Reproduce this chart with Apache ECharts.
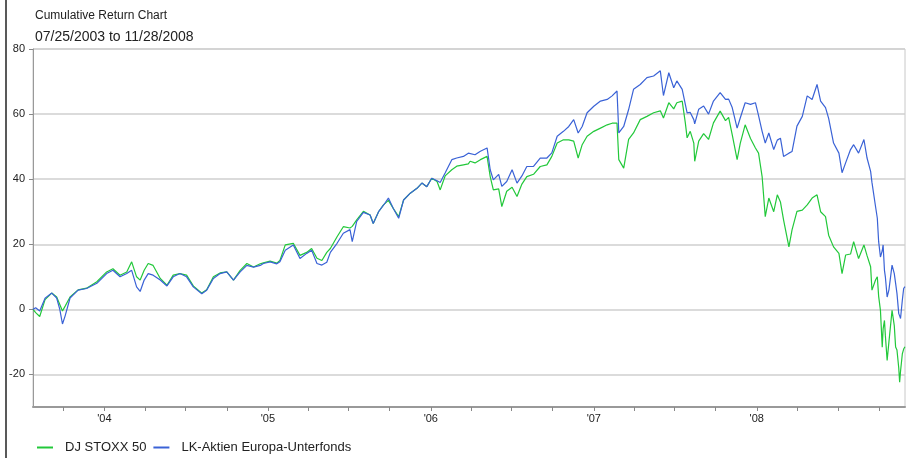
<!DOCTYPE html>
<html>
<head>
<meta charset="utf-8">
<script src="https://cdn.jsdelivr.net/npm/echarts@6/dist/echarts.min.js"></script>
<style>
  html, body { margin: 0; padding: 0; background: #fff; }
  #main { width: 923px; height: 458px; }
</style>
</head>
<body>
<div id="main"></div>
<script>
// 数据：日期 + 两条累计收益曲线 (%)
var dates = [
  '2003-07-25','2003-07-31','2003-08-09','2003-08-21','2003-09-05','2003-09-16','2003-09-23','2003-09-29','2003-10-05','2003-10-16','2003-11-03','2003-11-22','2003-12-15',
  '2004-01-06','2004-01-20','2004-02-05','2004-02-20','2004-03-02','2004-03-13','2004-03-21','2004-03-30','2004-04-08','2004-04-19','2004-05-05','2004-05-20','2004-06-03','2004-06-18','2004-07-03','2004-07-18','2004-08-06','2004-08-17','2004-09-01','2004-09-16','2004-10-01','2004-10-16','2004-10-31','2004-11-15','2004-11-30','2004-12-15','2004-12-22',
  '2005-01-06','2005-01-21','2005-01-28','2005-02-09','2005-02-27','2005-03-14','2005-03-29','2005-04-09','2005-04-21','2005-05-02','2005-05-13','2005-05-21','2005-06-05','2005-06-19','2005-07-04','2005-07-09','2005-07-19','2005-08-03','2005-08-18','2005-08-25','2005-09-06','2005-09-17','2005-09-28','2005-10-09','2005-10-21','2005-11-01','2005-11-16','2005-12-01','2005-12-12','2005-12-23',
  '2006-01-03','2006-01-15','2006-01-22','2006-02-02','2006-02-17','2006-02-28','2006-03-15','2006-03-26','2006-03-30','2006-04-10','2006-04-22','2006-05-07','2006-05-14','2006-05-21','2006-06-02','2006-06-09','2006-06-20','2006-07-02','2006-07-13','2006-07-24','2006-08-04','2006-08-19','2006-09-03','2006-09-18','2006-09-29','2006-10-11','2006-10-25','2006-11-06','2006-11-17','2006-11-27','2006-12-06','2006-12-17',
  '2007-01-01','2007-01-16','2007-01-31','2007-02-11','2007-02-22','2007-02-26','2007-03-09','2007-03-20','2007-03-31','2007-04-15','2007-04-30','2007-05-15','2007-05-30','2007-06-06','2007-06-18','2007-06-29','2007-07-06','2007-07-18','2007-07-25','2007-07-29','2007-08-05','2007-08-13','2007-08-15','2007-08-24','2007-09-04','2007-09-15','2007-09-26','2007-10-11','2007-10-23','2007-10-30','2007-11-07','2007-11-18','2007-11-25','2007-12-06','2007-12-18','2007-12-29',
  '2008-01-05','2008-01-13','2008-01-20','2008-01-28','2008-02-08','2008-02-16','2008-02-23','2008-03-01','2008-03-13','2008-03-20','2008-03-31','2008-04-12','2008-04-23','2008-05-04','2008-05-15','2008-05-23','2008-06-03','2008-06-10','2008-06-21','2008-07-03','2008-07-10','2008-07-18','2008-07-29','2008-08-05','2008-08-16','2008-08-28','2008-09-04','2008-09-12','2008-09-15','2008-09-23','2008-09-27','2008-09-30','2008-10-04','2008-10-08','2008-10-10','2008-10-13','2008-10-15','2008-10-19','2008-10-23','2008-10-30','2008-11-04','2008-11-07','2008-11-10','2008-11-14','2008-11-16','2008-11-18','2008-11-22','2008-11-25','2008-11-28'
];

// DJ STOXX 50
var stoxx = [
  0, -1, -2.2, 3.0, 5, 3.8, 1.5, -0.5, 1, 3.8, 6, 6.5, 8.5,
  11.5, 12.5, 10.5, 11.5, 14.6, 10, 9, 12, 14.1, 13.5, 9.5, 7.4, 10.5, 11, 10.5, 7.2, 5, 6, 10, 11.2, 11.5, 9, 12, 14.1, 13, 14, 14.3,
  14.8, 14.2, 15, 19.8, 20.3, 16.6, 17.5, 18.7, 15.7, 15, 17.5, 18.7, 22.3, 25.4, 25, 25.5, 27.5, 30.1, 29, 26.4, 30, 32.1, 33.5, 31, 28.5, 33.6, 35.7, 37.2, 38.8, 37.7,
  40.3, 39.3, 36.7, 41, 42.9, 44, 44.4, 44.7, 45.5, 45, 46, 47, 40.8, 36.7, 37, 31.6, 36.3, 37.5, 34.7, 38.5, 40.8, 41.5, 43.9, 44.4, 47, 51.1, 52.1, 52.1, 51.7, 46.5, 50.6, 53.2,
  54.7, 55.7, 56.7, 57.2, 57.2, 46, 43.4, 52.2, 54.2, 58.3, 59.3, 60.4, 61, 58.8, 63.5, 61.6, 63.5, 64, 57.3, 52.7, 54.7, 51.1, 45.5, 51.7, 54, 52.2, 57.3, 60.9, 58, 59, 53.7, 46, 51, 56.7, 52.5, 49.6,
  48, 40.8, 28.5, 34.2, 30, 35.2, 33, 27.5, 19.2, 24.4, 30.1, 30.5, 32.1, 34.2, 35.2, 30, 28.5, 22.8, 19.2, 17.2, 11, 16.7, 17, 20.8, 15.6, 19.8, 16.5, 13.1, 5.9, 9, 10, 4, -0.3, -11.6, -6, -3.4, -8, -15.7, -10, -0.3, -5, -11.6, -12.5, -18, -22.4, -19, -13.7, -12.2, -11.5
];

// LK-Aktien Europa-Unterfonds
var lkFund = [
  0, 0.5, -0.5, 3.4, 5, 3.5, 0, -4.5, -2, 3.5, 5.9, 6.4, 8,
  11, 12, 10, 11, 12, 6.9, 5.5, 9, 11, 10.5, 9, 7.2, 10, 11, 10, 6.9, 4.8, 5.9, 9.5, 11, 11.5, 9, 11.5, 13.5, 13, 13.5, 14.1,
  14.6, 14, 14.6, 18.2, 19.8, 15.6, 17.2, 18.2, 14.1, 13.6, 14.5, 17.5, 20.3, 23.4, 24.5, 20.8, 27, 29.8, 29, 26.4, 30, 32, 34.2, 31, 28, 33.6, 35.7, 37.2, 38.8, 37.7,
  40.3, 39.5, 39, 41.9, 46, 46.5, 47, 48, 48.1, 47.5, 48.6, 49.6, 42.9, 39.8, 41.5, 37.8, 39.3, 42.9, 38.8, 41, 43.9, 43.9, 46.5, 46.5, 48.1, 53.2, 54.7, 56.2, 58.3, 54.2, 56.2, 60.4,
  62.4, 64, 64.5, 65.6, 67.1, 54.2, 56.2, 61.4, 67.6, 69.1, 71.2, 71.7, 73.3, 65.7, 72.7, 68.1, 70.2, 67.6, 63, 60.4, 60.5, 58.3, 57, 61.5, 62.5, 60, 64, 66.6, 64.5, 64.6, 62, 55.7, 58.8, 63.5, 63, 63.5,
  59.5, 54.7, 51.1, 54.2, 49.1, 52, 52.6, 47, 48, 48.5, 56.3, 59.3, 65.6, 64.5, 69.1, 64, 62, 58.7, 51.1, 48, 42, 45, 49.1, 50.6, 48, 52.2, 46.5, 42.4, 39, 31.6, 28, 20.8, 16.1, 18, 19.8, 12, 10, 3.8, 6, 13.6, 11, 8, 4.9, -1.3, -2, -2.8, 2.8, 6.4, 7
];

var seriesNames = ['DJ STOXX 50', 'LK-Aktien Europa-Unterfonds'];

function pairs(vals) {
  return dates.map(function (d, i) { return [d, vals[i]]; });
}

var DAY = 24 * 3600 * 1000;
var myChart = echarts.init(document.getElementById('main'));

var option = {
  animation: false,
  backgroundColor: '#fff',
  title: {
    text: 'Cumulative Return Chart',
    subtext: '07/25/2003 to 11/28/2008',
    left: 30,
    top: 5,
    itemGap: 8,
    textStyle: { fontFamily: 'Liberation Sans', fontSize: 12, fontWeight: 'normal', color: '#222' },
    subtextStyle: { fontFamily: 'Liberation Sans', fontSize: 14, color: '#222' }
  },
  legend: {
    data: seriesNames,
    left: 32,
    top: 436,
    icon: 'rect',
    itemWidth: 16,
    itemHeight: 2,
    itemGap: 7,
    textStyle: { fontFamily: 'Liberation Sans', fontSize: 13, color: '#222', padding: [0, 0, 0, 7] }
  },
  grid: {
    left: 33, right: 18, top: 49, bottom: 51,
    containLabel: false,
    outerBoundsMode: 'none',
    show: true,
    borderColor: '#c8c8c8',
    borderWidth: 1
  },
  graphic: [{
    type: 'line',
    shape: { x1: 6, y1: 0, x2: 6, y2: 458 },
    style: { stroke: '#222', lineWidth: 1.5 }
  }],
  xAxis: {
    type: 'time',
    min: '2003-07-25',
    max: '2008-11-28',
    splitNumber: 16,
    minInterval: 105 * DAY,
    maxInterval: 115 * DAY,
    axisLine: { onZero: false, lineStyle: { color: '#999', width: 2 } },
    axisTick: { show: true, length: 4, lineStyle: { color: '#888' } },
    splitLine: { show: false },
    axisLabel: {
      fontFamily: 'Liberation Sans', fontSize: 11, color: '#222', margin: 6,
      hideOverlap: false,
      formatter: function (v) {
        var d = new Date(v);
        return d.getMonth() === 0 && d.getDate() === 1 ? "'" + String(d.getFullYear()).slice(2) : '';
      }
    }
  },
  yAxis: {
    type: 'value',
    min: -30,
    max: 80,
    splitNumber: 5,
    axisLine: { show: true, lineStyle: { color: '#999', width: 1 } },
    axisTick: { show: true, length: 4, lineStyle: { color: '#888' } },
    splitLine: { lineStyle: { color: '#cfcfcf', width: 1.5 } },
    axisLabel: { fontFamily: 'Liberation Sans', fontSize: 11, color: '#222', margin: 8, showMinLabel: false }
  },
  series: [{
    name: seriesNames[0],
    type: 'line',
    showSymbol: false,
    color: '#22c83a',
    lineStyle: { width: 1.2, color: '#22c83a' },
    data: pairs(stoxx)
  }, {
    name: seriesNames[1],
    type: 'line',
    showSymbol: false,
    color: '#3a62d6',
    lineStyle: { width: 1.2, color: '#3a62d6' },
    data: pairs(lkFund)
  }]
};

myChart.setOption(option);
</script>
</body>
</html>
